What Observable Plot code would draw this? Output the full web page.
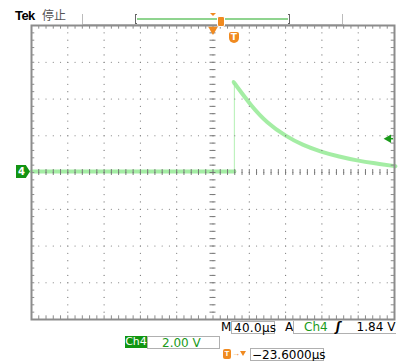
<!DOCTYPE html>
<html><head><meta charset="utf-8">
<script src="https://cdn.jsdelivr.net/npm/d3@7"></script>
<script src="https://cdn.jsdelivr.net/npm/@observablehq/plot@0.6"></script>
<style>
body{margin:0;background:#fff;font-family:"DejaVu Sans",sans-serif;}
#wrap{position:relative;width:403px;height:361px;overflow:hidden;background:#fff;}
.a{position:absolute;white-space:nowrap;}
.box{position:absolute;border:1px solid #b0b0b0;box-sizing:border-box;font-size:12px;line-height:11px;white-space:nowrap;}
</style></head><body><div id="wrap"></div>
<script>
// ---- data (time in µs relative to screen centre, voltage in V) ----
const timeDivs = [-200,-160,-120,-80,-40,0,40,80,120,160,200];
const voltDivs = [-8,-6,-4,-2,0,2,4,6,8];
const baseTimes = [-200, -120, -40, 23.6];
const baseVolts = [0.05, 0.06, 0.05, 0.05];
const riseTimes = [23.6, 23.6];
const riseVolts = [0.05, 4.85];
const decayTimes = [23.6, 24.7, 41.2, 59.9, 79.7, 99.5, 119.2, 139.0, 158.8, 178.6, 198.4, 200];
const decayVolts = [4.85, 4.79, 3.72, 2.74, 2.02, 1.50, 1.14, 0.87, 0.66, 0.50, 0.36, 0.35];
const trigLevel = 1.84;
const trigTime = 23.6;
const labels = {tek:"Tek", state:"停止", m:"M", timeDiv:"40.0µs", a:"A", ch:"Ch4", level:"1.84 V", voltDiv:"2.00 V", pos:"−23.6000µs"};

const minorT = d3.range(-200, 200.01, 8);
const minorV = d3.range(-8, 8.01, 0.4);
const innerT = timeDivs.slice(1,-1), innerV = voltDivs.slice(1,-1);
const dotsV = innerT.flatMap(t => minorV.map(v => ({t, v})));
const dotsH = innerV.flatMap(v => minorT.map(t => ({t, v})));

const base = baseTimes.map((t,i)=>({t, v: baseVolts[i]}));
const rise = riseTimes.map((t,i)=>({t, v: riseVolts[i]}));
const decay = decayTimes.map((t,i)=>({t, v: decayVolts[i]}));

const G = "#8c8c8c", TR = "#94ea94";
const plot = Plot.plot({
  width: 403, height: 361,
  marginLeft: 31, marginRight: 9, marginTop: 25, marginBottom: 42,
  x: {domain: [-200, 200], axis: null},
  y: {domain: [-8, 8], axis: null},
  style: {background: "transparent", overflow: "visible"},
  marks: [
    Plot.line(base, {x: "t", y: "v", stroke: TR, strokeWidth: 4, strokeOpacity: 0.85}),
    Plot.line(rise, {x: "t", y: "v", stroke: TR, strokeWidth: 1.2, strokeOpacity: 0.6}),
    Plot.line(decay, {x: "t", y: "v", stroke: TR, strokeWidth: 4, strokeOpacity: 0.85, curve: "natural"}),
    Plot.dot(dotsV, {x: "t", y: "v", r: 0.6, fill: "#777", stroke: null}),
    Plot.dot(dotsH, {x: "t", y: "v", r: 0.6, fill: "#777", stroke: null}),
    // centre crosshair ticks
    Plot.ruleY(minorV, {x1: -3.3, x2: 3.3, stroke: "#777", strokeWidth: 1}),
    Plot.ruleX(minorT, {y1: -0.16, y2: 0.16, stroke: "#777", strokeWidth: 1}),
    // edge ticks
    Plot.ruleX(minorT, {y1: 8, y2: 7.8, stroke: G, strokeWidth: 1}),
    Plot.ruleX(minorT, {y1: -8, y2: -7.8, stroke: G, strokeWidth: 1}),
    Plot.ruleY(minorV, {x1: -200, x2: -196.4, stroke: G, strokeWidth: 1}),
    Plot.ruleY(minorV, {x1: 200, x2: 196.4, stroke: G, strokeWidth: 1}),
    Plot.frame({stroke: G, strokeWidth: 2}),
    // trigger level arrow
    Plot.ruleY([trigLevel], {x1: 193.5, x2: 199, stroke: "#1a9a1a", strokeWidth: 1.5}),
    Plot.dot([trigLevel], {x: 193.5, y: d => d, symbol: "triangle", rotate: -90, r: 3.2, fill: "#1a9a1a", stroke: null}),
    // trigger position marker (centre, top)
    Plot.dot([0], {x: d => d, y: 8, dy: 4, symbol: "triangle", rotate: 180, r: 3.6, fill: "#f08a20", stroke: null})
  ]
});
const wrap = document.getElementById("wrap");
plot.style.position = "absolute"; plot.style.left = "0"; plot.style.top = "0";
wrap.appendChild(plot);
const sx = plot.scale("x"), sy = plot.scale("y");
const xc = sx.apply(0), xt = sx.apply(trigTime), y0 = sy.apply(0);

function add(html){ wrap.insertAdjacentHTML("beforeend", html); }
const OR = "#f08a20";
// header
add(`<div class="a" style="left:15px;top:8px;font:bold 13px 'Liberation Sans',Arial,sans-serif;color:#000;letter-spacing:-0.6px">${labels.tek}</div>`);
add(`<div class="a" style="left:42px;top:7px;font:12px 'Noto Sans CJK SC',sans-serif;color:#555;line-height:16px">${labels.state}</div>`);
// record bar
add(`<div class="a" style="left:82px;top:24px;width:262px;height:1px;background:#aaa"></div>`);
add(`<div class="a" style="left:82px;top:14px;width:1px;height:10px;background:#bbb"></div>`);
add(`<div class="a" style="left:342px;top:14px;width:1px;height:10px;background:#bbb"></div>`);
add(`<div class="a" style="left:135px;top:14px;width:2px;height:10px;border:1px solid #666;border-right:none;box-sizing:border-box"></div>`);
add(`<div class="a" style="left:288px;top:14px;width:2px;height:10px;border:1px solid #666;border-left:none;box-sizing:border-box"></div>`);
add(`<div class="a" style="left:137px;top:18px;width:151px;height:2px;background:#8fd48f"></div>`);
add(`<div class="a" style="left:${xc-3}px;top:13px;width:0;height:0;border-left:3px solid transparent;border-right:3px solid transparent;border-top:3px solid ${OR}"></div>`);
add(`<div class="a" style="left:${xc+4}px;top:16px;width:6px;height:9px;background:${OR};border-radius:2px;border:1px solid #fff;box-sizing:content-box"></div>`);
// trigger T badge
add(`<div class="a" style="left:${xt-5}px;top:32px;width:10px;height:11px;background:${OR};border-radius:2px 2px 5px 5px;color:#fff;font:bold 9px 'DejaVu Sans',sans-serif;line-height:10px;text-align:center">T</div>`);
// ground marker
add(`<div class="a" style="left:16px;top:${y0-7}px;width:14px;height:13px;background:#139413;clip-path:polygon(0 0,70% 0,100% 50%,70% 100%,0 100%);color:#fff;font:bold 10px 'DejaVu Sans',sans-serif;line-height:13px;text-indent:2px">4</div>`);
// bottom readouts
add(`<div class="a" style="left:221px;top:321px;font:12px 'DejaVu Sans',sans-serif;line-height:13px">${labels.m}</div>`);
add(`<div class="box" style="left:231px;top:321px;width:44px;height:13px;padding:1px 0 0 2px;color:#000;letter-spacing:0.3px">${labels.timeDiv}</div>`);
add(`<div class="a" style="left:285px;top:321px;font:12px 'DejaVu Sans',sans-serif;line-height:13px">${labels.a}</div>`);
add(`<div class="box" style="left:293px;top:321px;width:103px;height:13px;padding:1px 0 0 10px;border-top:none;border-right:none"><span style="color:#1a9a1a">${labels.ch}</span><span style="margin-left:8px;font-weight:bold;font-style:italic">ʃ</span><span style="margin-left:16px">${labels.level}</span></div>`);
add(`<div class="a" style="left:125px;top:336px;width:22px;height:12px;background:#119611;color:#fff;font:11px 'DejaVu Sans',sans-serif;line-height:12px;text-align:center">${labels.ch}</div>`);
add(`<div class="box" style="left:147px;top:336px;width:73px;height:13px;padding:1px 0 0 14px;color:#1a9a1a">${labels.voltDiv}</div>`);
add(`<div class="a" style="left:223px;top:349px;width:8px;height:10px;background:${OR};border-radius:2px;color:#fff;font:bold 8px sans-serif;line-height:10px;text-align:center">T</div>`);
add(`<div class="a" style="left:232px;top:349px;color:${OR};font:8px sans-serif;line-height:10px">→</div>`);
add(`<div class="a" style="left:240px;top:351px;width:0;height:0;border-left:3px solid transparent;border-right:3px solid transparent;border-top:5px solid ${OR}"></div>`);
add(`<div class="box" style="left:250px;top:348px;width:74px;height:13px;padding:1px 0 0 1px;color:#000">${labels.pos}</div>`);
</script></body></html>
